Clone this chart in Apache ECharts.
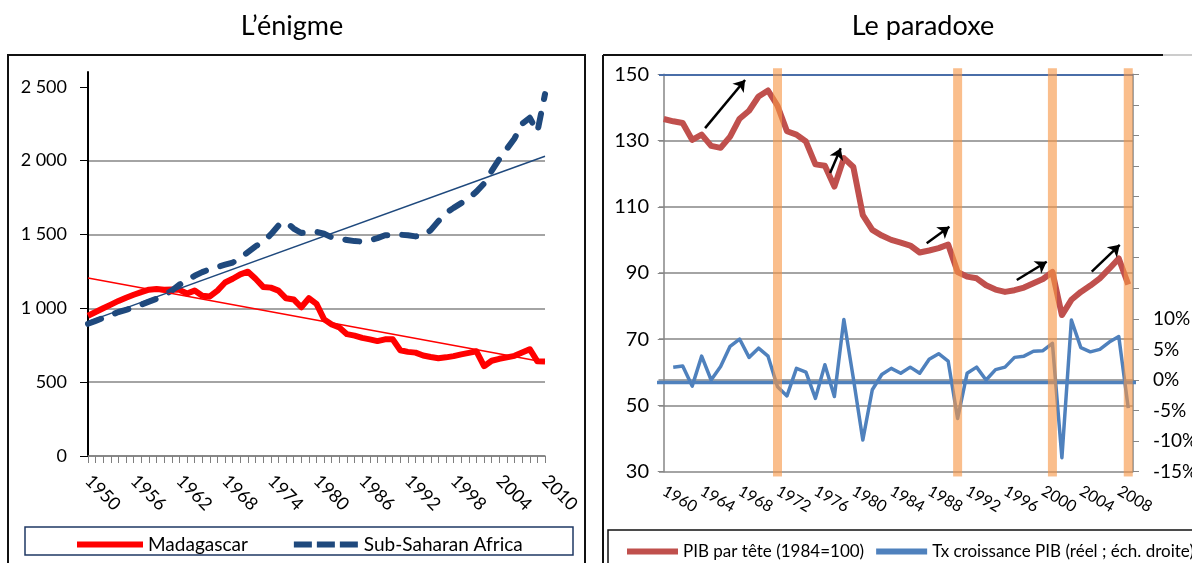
<!DOCTYPE html>
<html>
<head>
<meta charset="utf-8">
<script src="https://cdn.jsdelivr.net/npm/echarts@6/dist/echarts.min.js"></script>
<style>
  html, body { margin: 0; padding: 0; background: #fff; }
  #main { width: 1192px; height: 563px; }
</style>
</head>
<body>
<div id="main"></div>
<script>
  // ---- L'énigme : PIB par tête, Madagascar vs Afrique subsaharienne ----
  const yearsLeft = [];
  for (let y = 1950; y <= 2010; y++) yearsLeft.push(String(y));

  const madagascar = [
    950, 975, 1000, 1025, 1050, 1072, 1092, 1110, 1126, 1130,
    1125, 1128, 1125, 1100, 1120, 1085, 1080, 1120, 1175, 1200,
    1230, 1248, 1200, 1145, 1140, 1120, 1068, 1060, 1007, 1068,
    1030, 925, 890, 870, 825, 815, 800, 790, 778, 790,
    790, 716, 705, 700, 680, 670, 662, 668, 676, 688,
    698, 709, 608, 645, 658, 668, 678, 700, 723, 641, 640
  ];
  const subSaharan = [
    895, 915, 935, 955, 975, 990, 1005, 1025, 1045, 1065,
    1090, 1120, 1160, 1190, 1220, 1245, 1265, 1280, 1295, 1310,
    1340, 1380, 1420, 1450, 1500, 1560, 1585, 1540, 1510, 1515,
    1518, 1505, 1480, 1470, 1462, 1455, 1452, 1460, 1475, 1495,
    1495, 1498, 1495, 1487, 1490, 1529, 1590, 1645, 1680, 1712,
    1745, 1790, 1845, 1930, 2010, 2080, 2150, 2250, 2290, 2195, 2450
  ];
  // linear trend lines: value at first and last year
  const madTrend = [1205, 635];
  const ssaTrend = [910, 2030];
  const leftTicks = [0, 500, 1000, 1500, 2000, 2500];

  // ---- Le paradoxe ----
  const yearsRight = [];
  for (let y = 1960; y <= 2009; y++) yearsRight.push(String(y));

  const pibParTete = [
    136.5, 135.8, 135.3, 130.2, 131.8, 128.4, 127.8, 131.2, 136.6, 139,
    143.3, 145.1, 140.5, 132.8, 131.8, 129.7, 122.8, 122.4, 116.1, 124.7,
    122, 107.5, 103, 101.3, 100, 99.2, 98.3, 96.2, 96.8, 97.5,
    98.6, 90.3, 88.9, 88.4, 86.3, 85, 84.3, 84.8, 85.6, 86.9,
    88.2, 90.3, 77.3, 81.9, 84.3, 86.2, 88.4, 91.3, 94.4, 86.5
  ];
  const croissance = [
    null, 2.1, 2.3, -1.0, 3.9, 0, 2.2, 5.5, 6.7, 3.7,
    5.2, 3.9, -1.1, -2.6, 1.9, 1.3, -3.0, 2.5, -2.7, 9.9,
    0.3, -9.8, -1.6, 0.9, 1.9, 1.1, 2.1, 1.1, 3.4, 4.3,
    3.1, -6.3, 1.1, 2.1, 0, 1.7, 2.1, 3.7, 3.9, 4.7,
    4.8, 6.0, -12.7, 9.8, 5.3, 4.6, 5.0, 6.2, 7.1, -4.6
  ];
  const criseYears = ['1972', '1991', '2001', '2009'];
  // annotations (x in year-index units, y in PIB units)
  const criseLabels = [[11.5, 119.6], [30.8, 119.4], [40.8, 120.6], [47.5, 131.2]];
  const arrows = [
    [[4.36, 133.75], [8.58, 148.3]],
    [[17.55, 120.2], [18.67, 127.7]],
    [[27.74, 99.0], [30.13, 104.0]],
    [[37.24, 87.9], [40.4, 93.4]],
    [[45.15, 90.4], [48.1, 98.5]]
  ];
  const zeroLine = [[-2.7, -0.4], [52.6, -0.4]];

  const FONT = 'Lato, "Liberation Sans", sans-serif';
  const GRAY = '#868686';
  const DASH_ICON = 'path://M0,0h18v6h-18zM23,0h18v6h-18zM46,0h18v6h-18z';

  let chart = echarts.init(document.getElementById('main'));
  chart.setOption({
    animation: false,
    textStyle: { fontFamily: FONT, color: '#000' },
    title: [
      { text: 'L’énigme', left: 287, top: 8, textAlign: 'center',
        textStyle: { fontSize: 27, fontWeight: 'normal', color: '#000', fontFamily: FONT } },
      { text: 'Le paradoxe', left: 918, top: 8, textAlign: 'center',
        textStyle: { fontSize: 27, fontWeight: 'normal', color: '#000', fontFamily: FONT } }
    ],
    graphic: [
      { type: 'rect', shape: { x: 8, y: 55, width: 577, height: 600 },
        style: { fill: 'none', stroke: '#111', lineWidth: 2 } },
      { type: 'line', shape: { x1: 603, y1: 55, x2: 1163, y2: 55 },
        style: { stroke: '#111', lineWidth: 2 } },
      { type: 'line', shape: { x1: 1163, y1: 55, x2: 1192, y2: 55 },
        style: { stroke: '#bbb', lineWidth: 1.5 } },
      { type: 'line', shape: { x1: 603, y1: 55, x2: 603, y2: 563 },
        style: { stroke: '#111', lineWidth: 2 } },
      { type: 'rect', shape: { x: 25, y: 527, width: 548, height: 28 },
        style: { fill: 'none', stroke: '#1f3864', lineWidth: 1.5 } },
      { type: 'rect', shape: { x: 608, y: 530, width: 700, height: 60 },
        style: { fill: 'none', stroke: '#111', lineWidth: 1.5 } }
    ],
    legend: [
      { left: 72, top: 530, itemWidth: 66, itemHeight: 6, itemGap: 46,
        data: [
          { name: 'Madagascar', icon: 'rect' },
          { name: 'Sub-Saharan Africa', icon: DASH_ICON }
        ],
        textStyle: { fontSize: 19, color: '#000', fontFamily: FONT } },
      { left: 622, top: 538, width: 800, itemWidth: 51, itemHeight: 6, itemGap: 12,
        data: [
          { name: 'PIB par tête (1984=100)', icon: 'rect' },
          { name: 'Tx croissance PIB (réel ; éch. droite)', icon: 'rect' }
        ],
        textStyle: { fontSize: 17, color: '#000', fontFamily: FONT } }
    ],
    grid: [
      { left: 88, top: 72, width: 457, height: 384, outerBoundsMode: 'none' },
      { left: 659, top: 74.3, width: 474, height: 397.4, outerBoundsMode: 'none' }
    ],
    xAxis: [
      { type: 'category', gridIndex: 0, data: yearsLeft, boundaryGap: false,
        min: 0, max: yearsLeft.length - 1,
        axisLine: { lineStyle: { color: '#7f7f7f', width: 1.5 } },
        axisTick: { interval: 0, length: 7, lineStyle: { color: '#7f7f7f' } },
        axisLabel: { interval: 5, rotate: -45, margin: 22, fontSize: 18, color: '#000', fontFamily: FONT } },
      { type: 'category', gridIndex: 1, data: yearsRight,
        min: 0, max: yearsRight.length - 1,
        axisLine: { lineStyle: { color: GRAY, width: 1.5 } },
        axisTick: { interval: 0, length: 6, lineStyle: { color: GRAY } },
        axisLabel: { interval: 3, rotate: -30, margin: 18, fontSize: 16, color: '#000', fontFamily: FONT } },
      { type: 'value', gridIndex: 1, min: -0.5, max: 49.5, show: false }
    ],
    yAxis: [
      { type: 'value', gridIndex: 0, min: 0, max: 2600, interval: 500,
        axisLine: { show: true, lineStyle: { color: '#000', width: 2 } },
        axisTick: { show: true, length: 8, lineStyle: { color: '#000' }, customValues: leftTicks },
        axisLabel: { margin: 21, fontSize: 18, color: '#000', fontFamily: FONT, customValues: leftTicks,
          formatter: v => v > 2500 ? '' : String(v).replace(/\B(?=(\d{3})+(?!\d))/g, ' ') },
        splitLine: { showMaxLine: false, lineStyle: { color: GRAY, width: 1.5 } } },
      { type: 'value', gridIndex: 1, min: 30, max: 150, interval: 20,
        axisLine: { show: true, lineStyle: { color: GRAY, width: 1.5 } },
        axisTick: { show: true, length: 6, lineStyle: { color: GRAY } },
        axisLabel: { margin: 10, fontSize: 20, color: '#000', fontFamily: FONT },
        splitLine: { lineStyle: { color: GRAY, width: 1.5 } } },
      { type: 'value', gridIndex: 1, position: 'right', min: -15, max: 50, interval: 5,
        axisLine: { show: true, lineStyle: { color: GRAY, width: 1.5 } },
        axisTick: { show: true, length: 6, lineStyle: { color: GRAY } },
        axisLabel: { margin: 20, fontSize: 19, color: '#000', fontFamily: FONT,
          formatter: v => v > 10 ? '' : v + '%' },
        splitLine: { show: false } },
      { type: 'value', gridIndex: 1, min: 0, max: 100, show: false }
    ],
    series: [
      { name: 'Madagascar', type: 'line', xAxisIndex: 0, yAxisIndex: 0, data: madagascar,
        symbol: 'none', color: '#ff0000', lineStyle: { width: 6, color: '#ff0000', join: 'round' }, z: 3 },
      { name: 'Sub-Saharan Africa', type: 'line', xAxisIndex: 0, yAxisIndex: 0, data: subSaharan,
        symbol: 'none', color: '#1f497d',
        lineStyle: { width: 6, color: '#1f497d', type: [14, 15], cap: 'round', join: 'round' }, z: 3 },
      { name: 'trend-mad', type: 'line', xAxisIndex: 0, yAxisIndex: 0,
        data: [[yearsLeft[0], madTrend[0]], [yearsLeft[yearsLeft.length - 1], madTrend[1]]],
        symbol: 'none', lineStyle: { width: 1.5, color: '#ff0000' }, z: 4 },
      { name: 'trend-ssa', type: 'line', xAxisIndex: 0, yAxisIndex: 0,
        data: [[yearsLeft[0], ssaTrend[0]], [yearsLeft[yearsLeft.length - 1], ssaTrend[1]]],
        symbol: 'none', lineStyle: { width: 1.5, color: '#1f497d' }, z: 4 },

      { name: 'PIB par tête (1984=100)', type: 'line', xAxisIndex: 1, yAxisIndex: 1, data: pibParTete,
        symbol: 'none', color: '#c0504d', lineStyle: { width: 6, color: '#c0504d', join: 'round' }, z: 3,
        markLine: { silent: true, symbol: 'none', label: { show: false },
          lineStyle: { color: '#4a6ea8', width: 2, type: 'solid' }, data: [{ yAxis: 150 }] } },
      { name: 'Tx croissance PIB (réel ; éch. droite)', type: 'line', xAxisIndex: 1, yAxisIndex: 2,
        data: croissance, symbol: 'none', color: '#4f81bd',
        lineStyle: { width: 3.5, color: '#4f81bd', join: 'round' }, z: 3 },
      { name: 'zero', type: 'line', xAxisIndex: 2, yAxisIndex: 2, data: zeroLine, clip: false,
        symbol: 'none', lineStyle: { width: 3.5, color: '#4f81bd' }, z: 3 },
      { name: 'crise-haut', type: 'bar', xAxisIndex: 1, yAxisIndex: 3, stack: 'crise', barWidth: 9,
        data: criseYears.map(y => [y, 101.5]), clip: false,
        itemStyle: { color: 'rgba(247,150,70,0.62)' }, z: 10 },
      { name: 'crise-bas', type: 'bar', xAxisIndex: 1, yAxisIndex: 3, stack: 'crise', barWidth: 9,
        data: criseYears.map(y => [y, -1.2]), clip: false,
        itemStyle: { color: 'rgba(247,150,70,0.62)' }, z: 10 },
      { name: 'fleches', type: 'lines', coordinateSystem: 'cartesian2d', xAxisIndex: 2, yAxisIndex: 1,
        symbol: ['none', 'arrow'], symbolSize: 11,
        lineStyle: { color: '#000', width: 2.5, opacity: 1 },
        data: arrows.map(a => ({ coords: a })), z: 12 },
      { name: 'crise-label', type: 'scatter', xAxisIndex: 2, yAxisIndex: 1, data: criseLabels,
        symbolSize: 1, itemStyle: { opacity: 0 }, z: 13,
        label: { show: true, position: 'inside', formatter: 'Crise', fontSize: 17, fontWeight: 'bold',
          color: '#000', fontFamily: FONT } }
    ]
  });
</script>
</body>
</html>
